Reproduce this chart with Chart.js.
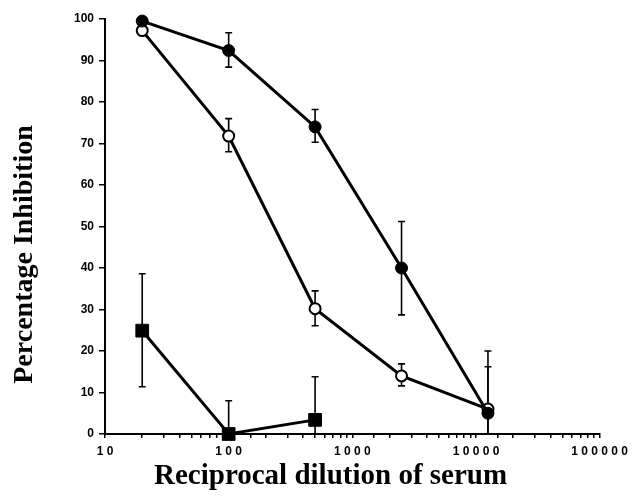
<!DOCTYPE html>
<html>
<head>
<meta charset="utf-8">
<script src="https://cdn.jsdelivr.net/npm/chart.js@4"></script>
<style>
  html, body { margin: 0; padding: 0; background: #fff; }
  #wrap { width: 634px; height: 497px; }
</style>
</head>
<body>
<div id="wrap"><canvas id="chart" width="634" height="497"></canvas></div>
<script>
// reciprocal serum dilutions
const dilutions = [20, 100, 500, 2500, 12500];
const squareDilutions = [20, 100, 500];

// filled circles
const filledValues = [99.5, 92.4, 74, 40, 5];
const filledHigh = [null, 96.7, 78.2, 51.2, 20];
const filledLow = [null, 88.4, 70.3, 28.7, 0];

// open circles
const openValues = [97.2, 71.8, 30.2, 14, 6];
const openHigh = [null, 76, 34.5, 16.9, 16.2];
const openLow = [null, 68, 26.1, 11.6, 0];

// filled squares
const squareValues = [24.9, 0, 3.4];
const squareHigh = [38.6, 8, 13.8];
const squareLow = [11.4, 0, 0];

const yTicks = [0, 10, 20, 30, 40, 50, 60, 70, 80, 90, 100];
const xMajor = [10, 100, 1000, 10000, 100000];

function points(xs, ys) {
  return xs.map((x, i) => ({x: x, y: ys[i]}));
}

// draws the error bars behind the markers
const errorBars = {
  id: 'errorBars',
  beforeDatasetsDraw(chart) {
    const {ctx, scales: {x, y}} = chart;
    ctx.save();
    ctx.strokeStyle = '#000';
    ctx.lineWidth = 1.6;
    chart.data.datasets.forEach(ds => {
      ds.data.forEach((p, i) => {
        const hi = ds.errHigh[i];
        const lo = ds.errLow[i];
        if (hi == null) return;
        const px = x.getPixelForValue(p.x);
        const yHi = y.getPixelForValue(hi);
        const yLo = y.getPixelForValue(lo);
        ctx.beginPath();
        ctx.moveTo(px, yHi);
        ctx.lineTo(px, yLo);
        ctx.moveTo(px - 3.5, yHi);
        ctx.lineTo(px + 3.5, yHi);
        if (lo > 0) {
          ctx.moveTo(px - 3.5, yLo);
          ctx.lineTo(px + 3.5, yLo);
        }
        ctx.stroke();
      });
    });
    ctx.restore();
  }
};

const ctx = document.getElementById('chart').getContext('2d');

new Chart(ctx, {
  type: 'line',
  data: {
    datasets: [
      {
        data: points(dilutions, filledValues),
        errHigh: filledHigh,
        errLow: filledLow,
        borderColor: '#000',
        borderWidth: 3,
        pointStyle: 'circle',
        pointRadius: 6,
        pointBackgroundColor: '#000',
        pointBorderColor: '#000',
        pointBorderWidth: 1,
        clip: false
      },
      {
        data: points(dilutions, openValues),
        errHigh: openHigh,
        errLow: openLow,
        borderColor: '#000',
        borderWidth: 3,
        pointStyle: 'circle',
        pointRadius: 5.5,
        pointBackgroundColor: '#fff',
        pointBorderColor: '#000',
        pointBorderWidth: 2,
        clip: false
      },
      {
        data: points(squareDilutions, squareValues),
        errHigh: squareHigh,
        errLow: squareLow,
        borderColor: '#000',
        borderWidth: 3,
        pointStyle: 'rect',
        pointRadius: 9,
        pointBackgroundColor: '#000',
        pointBorderColor: '#000',
        pointBorderWidth: 1,
        clip: false
      }
    ]
  },
  options: {
    responsive: false,
    animation: false,
    events: [],
    layout: {
      padding: {left: 0, right: 31, top: 19, bottom: 0}
    },
    plugins: {
      legend: {display: false},
      tooltip: {enabled: false}
    },
    elements: {
      line: {tension: 0}
    },
    scales: {
      x: {
        type: 'logarithmic',
        min: 10,
        max: 100000,
        afterFit(scale) {
          scale.height = 63;
        },
        border: {display: true, color: '#000', width: 2},
        grid: {
          drawOnChartArea: false,
          drawTicks: true,
          tickLength: 4,
          color: '#000',
          lineWidth: 1.5
        },
        ticks: {
          autoSkip: false,
          maxRotation: 0,
          color: '#000',
          padding: 6,
          font: {family: '"Liberation Sans", Arial, sans-serif', size: 12, weight: 'bold'},
          callback(value) {
            if (!xMajor.includes(value)) return '';
            return String(value).split('').join(' ');
          }
        },
        title: {
          display: true,
          text: 'Reciprocal dilution of serum\u00a0\u00a0\u00a0\u00a0\u00a0\u00a0',
          color: '#000',
          font: {family: '"Liberation Serif", "Times New Roman", serif', size: 29, weight: 'bold'},
          padding: {top: 0, bottom: 3}
        }
      },
      y: {
        min: 0,
        max: 100,
        afterFit(scale) {
          scale.width = 105;
        },
        afterBuildTicks(scale) {
          scale.ticks = yTicks.map(v => ({value: v}));
        },
        border: {display: true, color: '#000', width: 2},
        grid: {
          drawOnChartArea: false,
          drawTicks: true,
          tickLength: 6,
          color: '#000',
          lineWidth: 1.5
        },
        ticks: {
          autoSkip: false,
          color: '#000',
          padding: 5,
          font: {family: '"Liberation Sans", Arial, sans-serif', size: 12, weight: 'bold'}
        },
        title: {
          display: true,
          text: 'Percentage Inhibition\u00a0\u00a0\u00a0\u00a0\u00a0\u00a0\u00a0\u00a0',
          color: '#000',
          font: {family: '"Liberation Serif", "Times New Roman", serif', size: 28, weight: 'bold'},
          padding: {top: 8, bottom: 0}
        }
      }
    }
  },
  plugins: [errorBars]
});
</script>
</body>
</html>
